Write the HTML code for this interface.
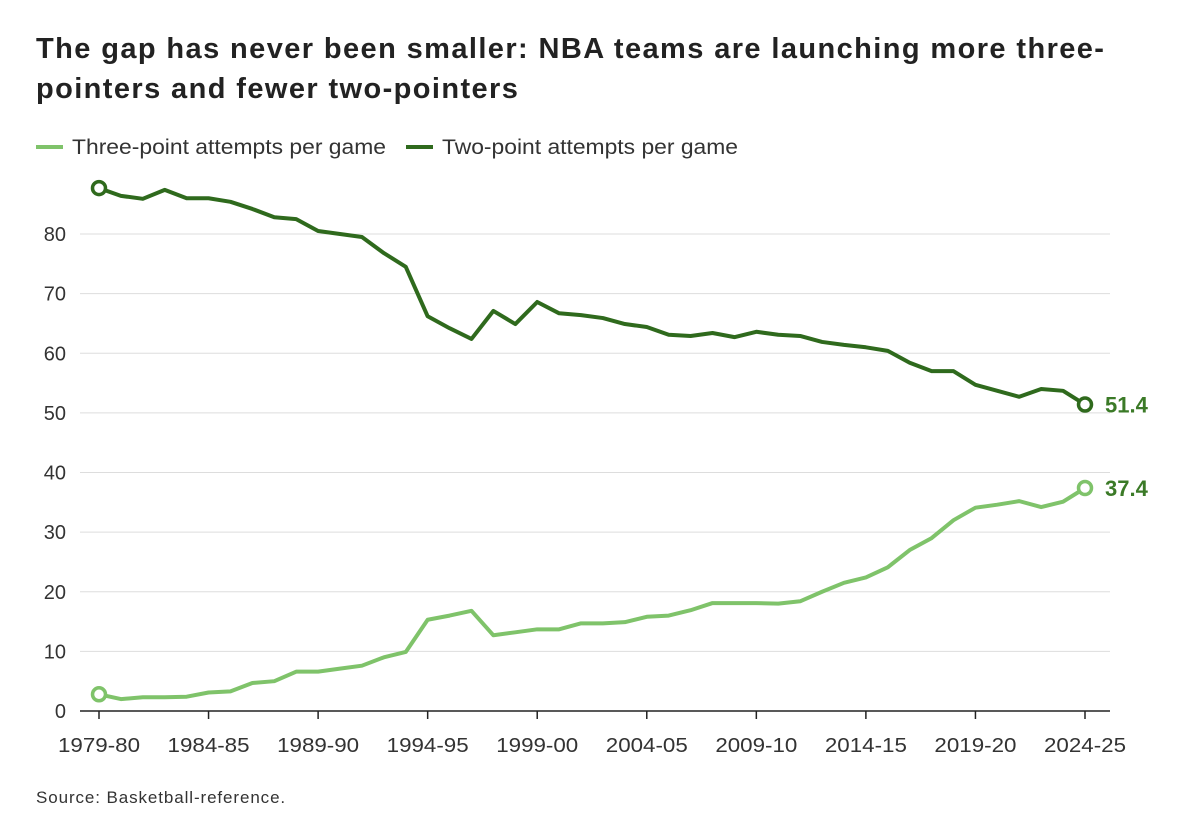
<!DOCTYPE html>
<html><head><meta charset="utf-8"><style>
body{margin:0;background:#fff;font-family:"Liberation Sans",sans-serif;}
#wrap{position:relative;width:1191px;height:834px;}
h1{position:absolute;left:36px;top:29px;margin:0;font-size:29px;line-height:40px;letter-spacing:1.4px;font-weight:bold;color:#222;width:1100px;font-family:"Liberation Sans",sans-serif;}
.src{position:absolute;left:36px;top:788px;font-size:17px;letter-spacing:0.9px;color:#333;}
</style></head><body>
<div id="wrap">
<h1>The gap has never been smaller: NBA teams are launching more three-pointers and fewer two-pointers</h1>
<svg id="chart" width="1191" height="834" style="position:absolute;left:0;top:0"></svg>
<div class="src">Source: Basketball-reference.</div>
</div>
<script>
const startYear = 1979;
const twoPt = [87.7,86.4,85.9,87.4,86.0,86.0,85.4,84.2,82.8,82.5,80.5,80.0,79.5,76.8,74.5,66.2,64.2,62.4,67.1,64.9,68.6,66.7,66.4,65.9,64.9,64.4,63.1,62.9,63.4,62.7,63.6,63.1,62.9,61.9,61.4,61.0,60.4,58.4,57.0,57.0,54.7,53.7,52.7,54.0,53.7,51.4];
const threePt = [2.8,2.0,2.3,2.3,2.4,3.1,3.3,4.7,5.0,6.6,6.6,7.1,7.6,9.0,9.9,15.3,16.0,16.8,12.7,13.2,13.7,13.7,14.7,14.7,14.9,15.8,16.0,16.9,18.1,18.1,18.1,18.0,18.4,20.0,21.5,22.4,24.1,27.0,29.0,32.0,34.1,34.6,35.2,34.2,35.1,37.4];
const yTicks = [0,10,20,30,40,50,60,70,80];
const xTickIdx = [0,5,10,15,20,25,30,35,40,45];
const seriesNames = ["Three-point attempts per game","Two-point attempts per game"];

const svg = document.getElementById('chart');
const NS = 'http://www.w3.org/2000/svg';
const x = i => 99 + i * (1085 - 99) / 45;
const y = v => 711 - v * (711 - 234) / 80;
function mk(tag, attrs){const e=document.createElementNS(NS,tag);for(const k in attrs)e.setAttribute(k,attrs[k]);svg.appendChild(e);return e;}
const label = i => { const a = startYear + i; const b = (a + 1) % 100; return a + '-' + String(b).padStart(2,'0'); };

yTicks.forEach(t=>{
  const g = mk('line',{x1:80,x2:1110,y1:y(t),y2:y(t),stroke:t===0?'#222':'#ddd','stroke-width':t===0?1.5:1});
  
  
  const tx = mk('text',{x:66,y:y(t)+7,'text-anchor':'end','font-size':20,fill:'#333','font-family':'Liberation Sans, sans-serif'});
  tx.textContent = t;
  
  
});
xTickIdx.forEach(i=>{
  const tk = mk('line',{x1:x(i),x2:x(i),y1:711,y2:719,stroke:'#222','stroke-width':1.5});
  
  
  const tx = mk('text',{x:x(i),y:752,'text-anchor':'middle','font-size':20,fill:'#333','font-family':'Liberation Sans, sans-serif',textLength:82,lengthAdjust:'spacingAndGlyphs'});
  tx.textContent = label(i);
  
  
});
function series(data,color,name){
  const p = mk('polyline',{points:data.map((v,i)=>x(i)+','+y(v)).join(' '),fill:'none',stroke:color,'stroke-width':4,'stroke-linejoin':'round'});
  
  
  [0,data.length-1].forEach(i=>{
    const c = mk('circle',{cx:x(i),cy:y(data[i]),r:6.5,fill:'#fff',stroke:color,'stroke-width':3.5});
    
    
  });
  const l = data.length-1;
  const t = mk('text',{x:x(l)+20,y:y(data[l])+8,'font-size':22,'font-weight':'bold',fill:'#3b7a27','font-family':'Liberation Sans, sans-serif'});
  t.textContent = data[l].toFixed(1);
  
  
}
series(twoPt,'#2f6a1d','two-point');
series(threePt,'#7fc36a','three-point');

const lg = [[36,seriesNames[0],'#7fc36a',314],[406,seriesNames[1],'#2f6a1d',296]];
lg.forEach(([lx,txt,col,w])=>{
  const l = mk('line',{x1:lx,x2:lx+27,y1:147,y2:147,stroke:col,'stroke-width':4});
  
  
  const t = mk('text',{x:lx+36,y:154,'font-size':21,fill:'#333','font-family':'Liberation Sans, sans-serif',textLength:w,lengthAdjust:'spacingAndGlyphs'});
  t.textContent = txt;
  
  
});
</script>
</body></html>
